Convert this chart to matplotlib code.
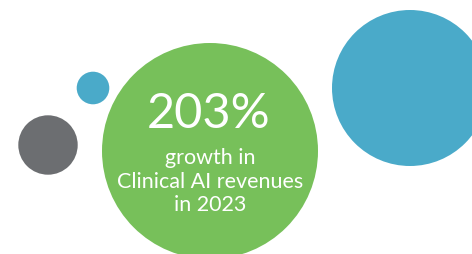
import matplotlib
matplotlib.use('Agg')
import matplotlib.pyplot as plt
from matplotlib.patches import Circle

# bubbles: centre x, centre y (pixels from top-left), radius, colour
bubble_x = [210, 410, 93, 48]
bubble_y = [151, 88, 88, 145]
bubble_r = [108, 78, 16.3, 29.7]
bubble_colors = ['#77C05A', '#4AAAC9', '#4AAAC9', '#6C6E71']

headline = '203%'
caption_lines = ['growth in', 'Clinical AI revenues', 'in 2023']

fig = plt.figure(figsize=(4.72, 2.54), dpi=100)
ax = fig.add_axes([0, 0, 1, 1])
ax.set_xlim(0, 472)
ax.set_ylim(254, 0)
ax.set_aspect('equal')
ax.axis('off')

for x, y, r, c in zip(bubble_x, bubble_y, bubble_r, bubble_colors):
    ax.add_patch(Circle((x, y), r, facecolor=c, edgecolor='none'))

ax.text(209, 114, headline, color='white', fontsize=35, family='Lato',
        fontweight='normal', ha='center', va='center')
for i, line in enumerate(caption_lines):
    ax.text(210, 158 + i * 23.5, line, color='white', fontsize=15.5,
            family='Lato', fontweight='normal', ha='center', va='center')

fig.savefig('out.png', dpi=100)
